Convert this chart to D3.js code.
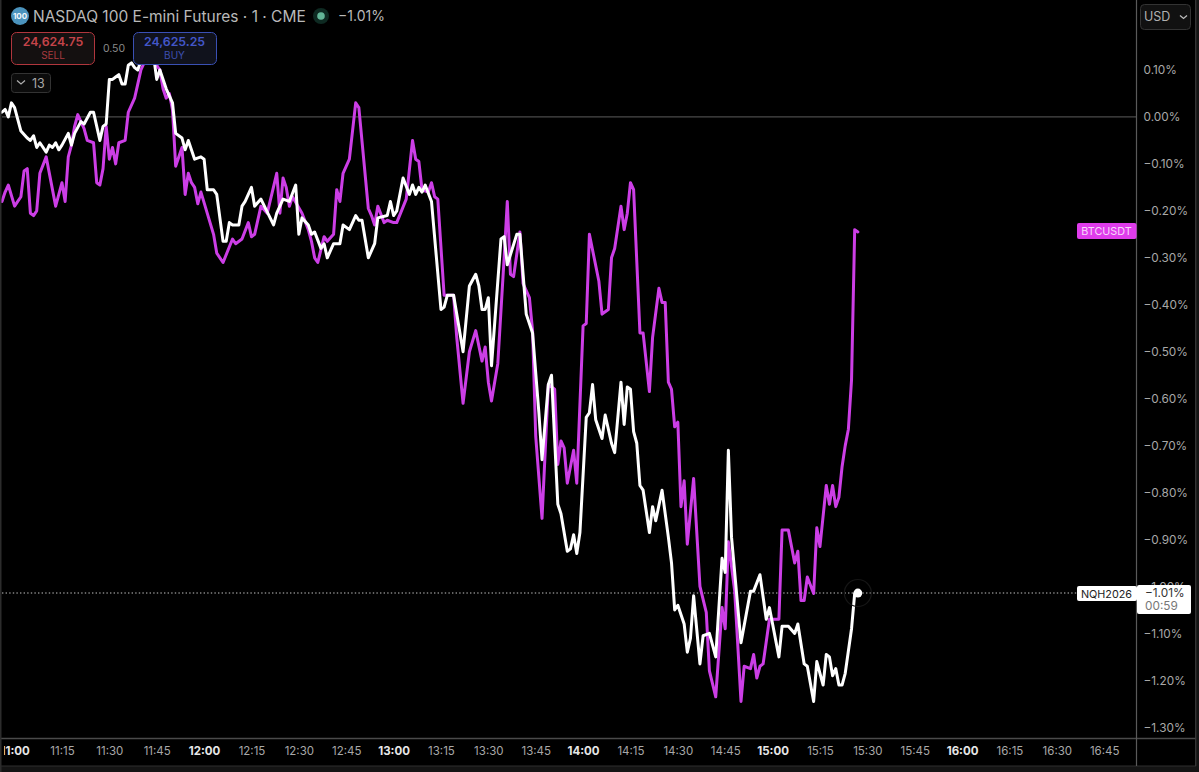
<!DOCTYPE html>
<html><head><meta charset="utf-8">
<script src="https://cdn.jsdelivr.net/npm/d3@7/dist/d3.min.js"></script>
<style>
html,body{margin:0;padding:0;background:#000}
svg{display:block}
text{font-family:Inter,"Noto Sans",sans-serif}
</style></head><body>
<svg id="c" width="1199" height="772"></svg>
<script>
// minutes after 11:00
const nqMinutes=[-4,-3,-2,-1,0,2,4,5,6,7,8,10,11,12,13,14,15,17,18,19,21,22,24,25,27,28,29,30,31,32,33,34,35,36,37,38,39,40,42,44,45,46,48,50,51,53,54,55,57,59,60,61,63,64,66,67,68,69,71,72,73,75,76,78,82,83,85,87,89,90,91,93,94,95,97,98,99,101,103,104,106,108,109,110,112,114,115,118,119,120,121,123,125,126,127,128,129,130,132,135,136,137,139,142,144,146,147,148,149,150,151,154,155,156,159,160,162,164,166,167,169,170,172,173,175,176,177,178,179,181,182,183,184,186,187,189,190,192,193,194,195,196,197,198,199,201,202,203,205,207,208,209,210,212,213,214,215,217,218,220,222,224,225,226,227,230,233,234,236,238,239,242,243,245,247,248,250,251,253,254,256,257,258,259,260,261,262,263,265,266,267];
const nqValues=[0.01,0.016,0,0.03,0.02,-0.03,-0.045,-0.05,-0.04,-0.065,-0.055,-0.075,-0.06,-0.065,-0.055,-0.07,-0.06,-0.035,-0.06,-0.035,-0.01,-0.015,0.01,0.01,-0.05,-0.02,-0.015,0.08,0.08,0.085,0.09,0.07,0.07,0.11,0.115,0.105,0.1,0.12,0.15,0.13,0.08,0.1,0.06,0.03,-0.035,-0.045,-0.07,-0.05,-0.09,-0.085,-0.09,-0.155,-0.155,-0.165,-0.265,-0.265,-0.225,-0.23,-0.23,-0.19,-0.18,-0.15,-0.19,-0.175,-0.23,-0.205,-0.175,-0.18,-0.145,-0.25,-0.215,-0.23,-0.25,-0.245,-0.28,-0.27,-0.3,-0.27,-0.27,-0.23,-0.24,-0.21,-0.22,-0.22,-0.3,-0.27,-0.215,-0.21,-0.18,-0.21,-0.2,-0.13,-0.165,-0.145,-0.165,-0.15,-0.16,-0.145,-0.18,-0.41,-0.405,-0.38,-0.38,-0.5,-0.36,-0.335,-0.36,-0.41,-0.41,-0.385,-0.53,-0.26,-0.255,-0.315,-0.25,-0.25,-0.42,-0.46,-0.63,-0.73,-0.57,-0.55,-0.825,-0.845,-0.925,-0.92,-0.89,-0.93,-0.885,-0.64,-0.63,-0.57,-0.645,-0.685,-0.635,-0.695,-0.715,-0.565,-0.655,-0.575,-0.58,-0.67,-0.695,-0.785,-0.795,-0.885,-0.83,-0.86,-0.795,-0.895,-0.95,-1.05,-1.04,-1.08,-1.14,-1.11,-1.02,-1.165,-1.105,-1.1,-1.15,-0.94,-0.97,-0.71,-0.895,-1.12,-1.01,-1.01,-0.975,-1.07,-1.045,-1.15,-1.085,-1.085,-1.1,-1.08,-1.165,-1.17,-1.245,-1.16,-1.21,-1.145,-1.15,-1.19,-1.175,-1.21,-1.21,-1.185,-1.09,-1.015,-1.014];
const btcMinutes=[-4,-3,-2,0,1,2,3,4,5,6,7,8,10,13,15,16,17,18,19,20,22,23,25,26,27,28,29,30,31,32,33,35,36,38,39,40,42,44,46,47,48,49,50,51,53,54,55,56,57,58,59,63,64,66,69,70,72,74,75,76,78,80,83,84,85,86,87,88,91,93,94,95,96,98,99,101,102,103,104,106,108,109,112,113,114,115,117,118,120,121,124,126,127,128,129,131,132,133,134,136,139,140,142,144,146,148,149,150,151,153,155,156,157,158,160,161,163,164,165,167,169,171,172,173,174,175,177,178,180,181,182,185,186,187,188,189,190,192,193,194,195,196,198,199,201,202,204,205,206,207,208,209,210,211,212,213,215,217,219,220,222,224,225,226,228,230,231,233,234,235,236,237,239,242,243,245,247,248,249,250,251,253,254,255,257,258,259,260,261,262,263,264,265,266,267];
const btcValues=[-0.18,-0.16,-0.145,-0.19,-0.18,-0.17,-0.115,-0.11,-0.205,-0.21,-0.2,-0.12,-0.085,-0.19,-0.14,-0.18,-0.085,-0.06,-0.02,0.005,-0.025,-0.05,-0.055,-0.14,-0.145,-0.11,-0.02,-0.09,-0.065,-0.1,-0.055,-0.05,0.01,0.04,0.07,0.1,0.13,0.12,0.1,0.06,0.04,0.05,0.015,-0.105,-0.065,-0.165,-0.12,-0.14,-0.15,-0.185,-0.16,-0.25,-0.29,-0.31,-0.26,-0.27,-0.26,-0.225,-0.255,-0.25,-0.19,-0.205,-0.12,-0.205,-0.13,-0.15,-0.19,-0.17,-0.205,-0.24,-0.265,-0.3,-0.31,-0.255,-0.265,-0.25,-0.155,-0.18,-0.12,-0.09,0.03,0.02,-0.195,-0.21,-0.23,-0.19,-0.225,-0.22,-0.225,-0.225,-0.175,-0.05,-0.09,-0.095,-0.155,-0.16,-0.14,-0.17,-0.175,-0.38,-0.38,-0.47,-0.61,-0.5,-0.455,-0.52,-0.49,-0.565,-0.605,-0.525,-0.3,-0.18,-0.335,-0.34,-0.245,-0.355,-0.385,-0.455,-0.68,-0.855,-0.57,-0.58,-0.74,-0.69,-0.705,-0.78,-0.71,-0.78,-0.445,-0.44,-0.25,-0.35,-0.42,-0.415,-0.41,-0.3,-0.28,-0.19,-0.24,-0.205,-0.14,-0.155,-0.46,-0.46,-0.585,-0.47,-0.365,-0.395,-0.395,-0.565,-0.58,-0.66,-0.65,-0.83,-0.775,-0.91,-0.77,-1,-1.055,-1.18,-1.235,-1.045,-1.09,-0.905,-1.01,-1.245,-1.17,-1.175,-1.145,-1.195,-1.17,-1.165,-1.07,-1.07,-0.88,-0.88,-0.95,-0.925,-1.03,-1.03,-0.98,-1.015,-0.875,-0.915,-0.785,-0.825,-0.785,-0.83,-0.81,-0.745,-0.7,-0.665,-0.56,-0.24,-0.245];
const timeTicks=d3.range(0,346,15);
const pctTicks=[0.1,0,-0.1,-0.2,-0.3,-0.4,-0.5,-0.6,-0.7,-0.8,-0.9,-1.0,-1.1,-1.2,-1.3];
const lastPct=-1.014;

const svg=d3.select("#c");
const left=2,right=1136.5,axisY=738.5,bottomY=766;
const x=d3.scaleLinear().domain([0,345]).range([14.6,1104.2]);
const y=d3.scaleLinear().domain([0.1,-1.3]).range([70,727.3]);
const fmtPct=v=>{const s=Math.abs(v).toFixed(2)+"%";return (v<-0.0001?"\u2212":"")+s;};
const fmtTime=m=>{const h=11+Math.floor(m/60),mm=m%60;return h+":"+String(mm).padStart(2,"0");};

svg.append("rect").attr("width",1199).attr("height",772).attr("fill","#000");
svg.append("rect").attr("x",0).attr("y",bottomY).attr("width",1199).attr("height",6).attr("fill","#141414");
svg.append("rect").attr("x",1196).attr("y",0).attr("width",3).attr("height",772).attr("fill","#141414");

// zero baseline
svg.append("line").attr("x1",left).attr("x2",right).attr("y1",y(0)).attr("y2",y(0)).attr("stroke","#4a4a4a").attr("stroke-width",1.3);

// axes
svg.append("clipPath").attr("id","tclip").append("rect").attr("x",4).attr("y",730).attr("width",1130).attr("height",36);
const gx=svg.append("g").attr("clip-path","url(#tclip)").append("g").attr("transform",`translate(0,${axisY})`)
 .call(d3.axisBottom(x).tickValues(timeTicks).tickSize(0).tickPadding(8).tickFormat(fmtTime));
gx.select(".domain").remove();
gx.selectAll("text").attr("font-size",11.5).attr("fill",d=>d%60===0?"#e6e6e6":"#a8a8a8")
 .attr("font-weight",d=>d%60===0?700:400).attr("dy","0.75em");
const gy=svg.append("g").attr("transform",`translate(${right},0)`)
 .call(d3.axisRight(y).tickValues(pctTicks).tickSize(0).tickPadding(7).tickFormat(fmtPct));
gy.select(".domain").remove();
gy.selectAll("text").attr("font-size",11.8).attr("fill","#a8a8a8");

svg.append("line").attr("x1",0).attr("x2",1196).attr("y1",axisY).attr("y2",axisY).attr("stroke","#4a4a4a").attr("stroke-width",1.3);
svg.append("line").attr("x1",0).attr("x2",1196).attr("y1",bottomY).attr("y2",bottomY).attr("stroke","#2e2e2e");
svg.append("line").attr("x1",right).attr("x2",right).attr("y1",0).attr("y2",bottomY).attr("stroke","#5a5a5a").attr("stroke-width",1.2);
svg.append("line").attr("x1",1195.7).attr("x2",1195.7).attr("y1",0).attr("y2",bottomY).attr("stroke","#3a3a3a").attr("stroke-width",1.2);

// last value dotted line
svg.append("line").attr("x1",left).attr("x2",1077).attr("y1",y(lastPct)).attr("y2",y(lastPct))
 .attr("stroke","#c4c4c4").attr("stroke-width",1.2).attr("stroke-dasharray","1.4 2.2");

// series
const line=d3.line().x(d=>x(d[0])).y(d=>y(d[1])).curve(d3.curveLinear);
const plot=svg.append("g").attr("fill","none").attr("stroke-linejoin","round").attr("stroke-linecap","round");
plot.append("path").datum(d3.zip(btcMinutes,btcValues)).attr("d",line).attr("stroke","#cc3ee6").attr("stroke-width",3);
plot.append("path").datum(d3.zip(nqMinutes,nqValues)).attr("d",line).attr("stroke","#ffffff").attr("stroke-width",3);

// left edge of the pane
svg.append("rect").attr("x",0).attr("y",0).attr("width",1.5).attr("height",772).attr("fill","#2c2c2c");

// last point marker
const lx=x(nqMinutes[nqMinutes.length-1]),ly=y(lastPct);
svg.append("circle").attr("cx",lx).attr("cy",ly).attr("r",13.5).attr("fill","none").attr("stroke","#161616").attr("stroke-width",1.2);
svg.append("circle").attr("cx",lx).attr("cy",ly).attr("r",4.4).attr("fill","#fff");

// helpers
const box=(x0,y0,w,h,fill,stroke,r)=>svg.append("rect").attr("x",x0).attr("y",y0).attr("width",w).attr("height",h).attr("rx",r).attr("fill",fill).attr("stroke",stroke||"none").attr("stroke-width",1);
const txt=(s,tx,ty,size,fill,anchor,weight)=>svg.append("text").text(s).attr("x",tx).attr("y",ty).attr("font-size",size).attr("fill",fill).attr("text-anchor",anchor||"start").attr("font-weight",weight||400);

// header
svg.append("circle").attr("cx",20).attr("cy",16).attr("r",9).attr("fill","#4b93bd");
txt("100",20,19,8,"#f2f8fb","middle",700);
txt("NASDAQ 100 E-mini Futures \u00b7 1 \u00b7 CME",33,21.5,15.5,"#b9b9b9");
svg.append("circle").attr("cx",321).attr("cy",16).attr("r",8).attr("fill","#0e2a22");
svg.append("circle").attr("cx",321).attr("cy",16).attr("r",3.8).attr("fill","#62b597");
txt("\u22121.01%",338,21,14,"#b9b9b9");

// order buttons
box(11.5,32.5,83,32,"#141010","#b0363d",5);
txt("24,624.75",53,46,12.3,"#c4444a","middle",600);
txt("SELL",53,59,10,"#a83a40","middle");
txt("0.50",114,52,10.5,"#8a8a8a","middle");
box(133.5,32.5,83,32,"#10121c","#3a50b4",5);
txt("24,625.25",174.5,46,12.3,"#4357c9","middle",600);
txt("BUY",174.5,59,10,"#3d4fb0","middle");

// collapse button
box(11.5,73.5,39,19,"#0c0c0c","#333",3);
svg.append("path").attr("d","M17 80.5l4 3.5l4-3.5").attr("fill","none").attr("stroke","#b0b0b0").attr("stroke-width",1.2);
txt("13",32,88,12.5,"#a8a8a8");

// currency
box(1140.5,4.5,50,25,"#111","#333",4);
txt("USD",1144,21,12.5,"#b0b0b0");
svg.append("path").attr("d","M1180 15.5l3.5 3l3.5-3").attr("fill","none").attr("stroke","#bbb").attr("stroke-width",1.3);

// series labels
box(1077,223,59.5,16,"#df3ceb",null,2);
txt("BTCUSDT",1106.5,235,10.8,"#f7d8fa","middle");
box(1077,586,60,15,"#fff",null,2);
txt("NQH2026",1106.5,597.5,10.8,"#222","middle");
box(1137,585,54,29,"#fff",null,2);
txt(fmtPct(lastPct),1145,597,11.8,"#333");
txt("00:59",1145,610,11.8,"#777");
</script>
</body></html>
